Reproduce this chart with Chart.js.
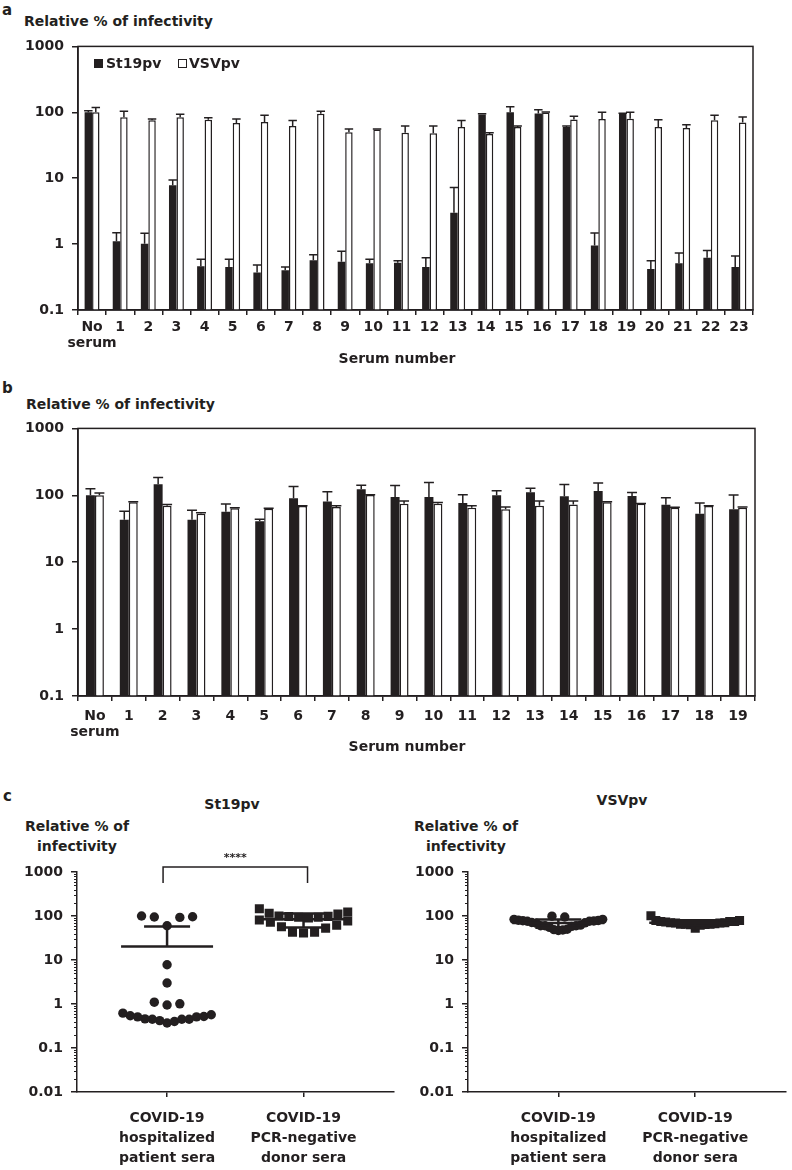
<!DOCTYPE html>
<html>
<head>
<meta charset="utf-8">
<title>Relative % of infectivity</title>
<script src="https://cdn.jsdelivr.net/npm/chart.js"></script>
<style>
  html, body { margin: 0; padding: 0; background: #fff; }
  #page { position: relative; width: 792px; height: 1170px; overflow: hidden;
          font-family: "DejaVu Sans", sans-serif; font-weight: bold; color: #231f20; }
  .t { position: absolute; font-size: 14px; line-height: 16px; white-space: nowrap; }
  .letter { font-size: 15px; }
  .mid { width: 200px; text-align: center; }
  .head { width: 160px; text-align: center; }
  .two { width: 160px; text-align: center; line-height: 20px; }
  .key { position: absolute; width: 9px; height: 9px; box-sizing: border-box; border: 1.5px solid #231f20; }
  canvas { position: absolute; }
</style>
</head>
<body>
<div id="page">
  <div class="t letter" style="left:2px; top:2px">a</div>
  <div class="t" style="left:24px; top:13px">Relative % of infectivity</div>
  <canvas id="chartA" width="792" height="330" style="left:0; top:30px"></canvas>
  <div class="key" style="left:94px; top:59px; background:#231f20"></div>
  <div class="t" id="keyA1" style="left:106px; top:55px"></div>
  <div class="key" style="left:178px; top:59px; background:#fff"></div>
  <div class="t" id="keyA2" style="left:189px; top:55px"></div>
  <div class="t mid" style="left:297px; top:350px">Serum number</div>

  <div class="t letter" style="left:2px; top:380px">b</div>
  <div class="t" style="left:26px; top:396px">Relative % of infectivity</div>
  <canvas id="chartB" width="792" height="335" style="left:0; top:412px"></canvas>
  <div class="t mid" style="left:307px; top:738px">Serum number</div>

  <div class="t letter" style="left:3px; top:788px">c</div>
  <div class="t head" id="headC1" style="left:152px; top:796px"></div>
  <div class="t head" id="headC2" style="left:542px; top:792px"></div>
  <div class="t two" style="left:-3px; top:816px">Relative % of<br>infectivity</div>
  <div class="t two" style="left:386px; top:816px">Relative % of<br>infectivity</div>
  <canvas id="chartC1" width="400" height="325" style="left:0; top:845px"></canvas>
  <canvas id="chartC2" width="392" height="325" style="left:400px; top:845px"></canvas>
</div>

<script>
// --- données ---
const seriesNames = ['St19pv', 'VSVpv'];

// panneau a : sérums de patients
const serumA = ['No serum', '1', '2', '3', '4', '5', '6', '7', '8', '9', '10', '11',
                '12', '13', '14', '15', '16', '17', '18', '19', '20', '21', '22', '23'];
const st19A   = [100, 1.1, 1.01, 7.8, 0.46, 0.45, 0.37, 0.40, 0.57, 0.54, 0.51, 0.52,
                 0.45, 3.0, 93, 100, 96, 60, 0.95, 95, 0.42, 0.51, 0.62, 0.45];
const st19ASd = [6, 0.39, 0.45, 1.6, 0.13, 0.14, 0.11, 0.05, 0.12, 0.24, 0.08, 0.04,
                 0.17, 4.2, 2, 21, 13, 2, 0.52, 2, 0.14, 0.22, 0.18, 0.21];
const vsvA    = [100, 84, 76, 84, 77, 69, 71, 62, 95, 50, 55, 49,
                 48, 60, 47, 60, 99, 78, 79, 80, 60, 58, 76, 70];
const vsvASd  = [18, 20, 3, 9.5, 6, 10, 19, 13, 9, 6, 1, 13,
                 14, 15, 2, 2, 2, 9, 21, 20, 17, 7, 14, 15];

// panneau b : sérums de donneurs
const serumB = ['No serum', '1', '2', '3', '4', '5', '6', '7', '8', '9', '10',
                '11', '12', '13', '14', '15', '16', '17', '18', '19'];
const st19B   = [100, 43, 146, 43, 57, 41, 90, 81, 123, 94, 94, 77, 100, 111, 97, 116, 98, 72, 53, 62];
const st19BSd = [25, 15, 38, 17, 17, 3, 45, 32, 18, 46, 61, 25, 17, 17, 48, 37, 12, 20, 24, 39];
const vsvB    = [100, 79, 70, 53, 64, 63, 69, 67, 101, 75, 75, 65, 62, 70, 73, 79, 75, 65, 69, 65];
const vsvBSd  = [8, 1, 3, 2, 1, 1, 0.5, 3, 1, 7, 3, 5, 5, 12, 9, 1, 0.5, 1, 1, 2];

// axes
const yTicksBars = [0.1, 1, 10, 100, 1000];
const yTicksScatter = [0.01, 0.1, 1, 10, 100, 1000];
const groupLabels = [['COVID-19', 'hospitalized', 'patient sera'],
                     ['COVID-19', 'PCR-negative', 'donor sera']];
const sigLabel = '****';

// --- style ---
const ink = '#231f20';
Chart.defaults.font.family = '"DejaVu Sans", sans-serif';
Chart.defaults.font.size = 14;
Chart.defaults.font.weight = 'bold';
Chart.defaults.color = ink;
Chart.defaults.animation = false;
Chart.defaults.events = [];

document.getElementById('keyA1').textContent = seriesNames[0];
document.getElementById('keyA2').textContent = seriesNames[1];
document.getElementById('headC1').textContent = seriesNames[0];
document.getElementById('headC2').textContent = seriesNames[1];

// cadre autour de la zone de tracé (panneaux a et b)
const frame = {
    id: 'frame',
    afterDraw(chart) {
        const {ctx, chartArea: a} = chart;
        ctx.save();
        ctx.strokeStyle = ink;
        ctx.lineWidth = 1.5;
        ctx.strokeRect(a.left, a.top, a.right - a.left, a.bottom - a.top);
        ctx.restore();
    }
};

// barres d'erreur (vers le haut seulement)
const errorBars = {
    id: 'errorBars',
    afterDatasetsDraw(chart) {
        const {ctx, scales: {y}} = chart;
        ctx.save();
        ctx.strokeStyle = ink;
        ctx.lineWidth = 1.5;
        chart.data.datasets.forEach((ds, i) => {
            chart.getDatasetMeta(i).data.forEach((bar, j) => {
                const top = y.getPixelForValue(ds.data[j] + ds.sd[j]);
                const half = bar.width / 2 + 0.5;
                ctx.beginPath();
                ctx.moveTo(bar.x, bar.y);
                ctx.lineTo(bar.x, top);
                ctx.moveTo(bar.x - half, top);
                ctx.lineTo(bar.x + half, top);
                ctx.stroke();
            });
        });
        ctx.restore();
    }
};

// petites graduations de l'axe log (panneau c)
const minorTicks = {
    id: 'minorTicks',
    afterDraw(chart) {
        const {ctx, scales: {y}} = chart;
        ctx.save();
        ctx.strokeStyle = ink;
        ctx.lineWidth = 1;
        ctx.beginPath();
        for (let e = Math.round(Math.log10(y.min)); e < Math.round(Math.log10(y.max)); e++) {
            for (let m = 2; m <= 9; m++) {
                const py = Math.round(y.getPixelForValue(m * Math.pow(10, e))) + 0.5;
                ctx.moveTo(y.right - 3, py);
                ctx.lineTo(y.right, py);
            }
        }
        ctx.stroke();
        ctx.restore();
    }
};

// moyenne + écart-type de chaque groupe
const meanSd = {
    id: 'meanSd',
    afterDatasetsDraw(chart) {
        const {ctx, scales: {x, y}} = chart;
        ctx.save();
        ctx.strokeStyle = ink;
        ctx.lineWidth = 2.5;
        chart.data.datasets.forEach(ds => {
            const v = ds.values, n = v.length;
            const mean = v.reduce((a, b) => a + b, 0) / n;
            const sd = Math.sqrt(v.reduce((a, b) => a + (b - mean) ** 2, 0) / (n - 1));
            const cx = x.getPixelForValue(ds.center);
            const pm = y.getPixelForValue(mean);
            const pu = y.getPixelForValue(mean + sd);
            ctx.beginPath();
            ctx.moveTo(cx - 46, pm); ctx.lineTo(cx + 46, pm);
            ctx.moveTo(cx, pm); ctx.lineTo(cx, pu);
            ctx.moveTo(cx - 23, pu); ctx.lineTo(cx + 23, pu);
            if (mean - sd > y.min) {
                const pl = y.getPixelForValue(mean - sd);
                ctx.moveTo(cx, pm); ctx.lineTo(cx, pl);
                ctx.moveTo(cx - 23, pl); ctx.lineTo(cx + 23, pl);
            }
            ctx.stroke();
        });
        ctx.restore();
    }
};

// crochet de significativité
const bracket = {
    id: 'bracket',
    afterDraw(chart) {
        const {ctx, chartArea, scales: {x, y}} = chart;
        const x0 = x.getPixelForValue(0) - 4, x1 = x.getPixelForValue(1) + 4;
        const top = chartArea.top - 5, end = y.getPixelForValue(560);
        ctx.save();
        ctx.strokeStyle = ink;
        ctx.lineWidth = 1.5;
        ctx.beginPath();
        ctx.moveTo(x0, end); ctx.lineTo(x0, top); ctx.lineTo(x1, top); ctx.lineTo(x1, end);
        ctx.stroke();
        ctx.fillStyle = ink;
        ctx.font = 'bold 11px "DejaVu Sans"';
        ctx.textAlign = 'center';
        ctx.fillText(sigLabel, (x0 + x1) / 2, top - 6);
        ctx.restore();
    }
};

function logAxis(ticks, width) {
    return {
        type: 'logarithmic',
        min: ticks[0],
        max: ticks[ticks.length - 1],
        afterBuildTicks: s => { s.ticks = ticks.map(v => ({value: v})); },
        afterFit: s => { s.width = width; },
        ticks: {callback: v => String(v), padding: 8},
        grid: {drawOnChartArea: false, tickLength: 6, color: ink, lineWidth: 1.5},
        border: {color: ink, width: 1.5}
    };
}

function barChart(id, labels, st19, st19Sd, vsv, vsvSd, o) {
    return new Chart(document.getElementById(id), {
        type: 'bar',
        data: {
            labels: labels.map(l => l.split(' ')),
            datasets: [
                {label: seriesNames[0], data: st19, sd: st19Sd, backgroundColor: ink,
                 borderColor: ink, borderWidth: 0, categoryPercentage: 0.53, barPercentage: 1},
                {label: seriesNames[1], data: vsv, sd: vsvSd, backgroundColor: '#fff',
                 borderColor: ink, borderWidth: 1.5, categoryPercentage: 0.53, barPercentage: 1}
            ]
        },
        options: {
            responsive: false,
            layout: {padding: o.padding},
            plugins: {legend: {display: false}, tooltip: {enabled: false}},
            scales: {
                x: {
                    afterFit: s => { s.height = o.xHeight; },
                    ticks: {padding: o.tickPad, autoSkip: false, maxRotation: 0,
                            font: {size: 14, weight: 'bold', lineHeight: 1.09}},
                    grid: {drawOnChartArea: false, tickLength: 5, color: ink, lineWidth: 1.5},
                    border: {color: ink, width: 1.5}
                },
                y: logAxis(yTicksBars, 78)
            }
        },
        plugins: [errorBars, frame]
    });
}

// disposition en essaim : valeurs proches sur une rangée, les plus basses au centre
const SWARM_STEP = 13, SWARM_HALF = 45, PX_PER_UNIT = 139;
function swarm(values, center) {
    const order = values.map((v, i) => i).sort((a, b) => values[a] - values[b]);
    const rows = [];
    let row = null;
    order.forEach(i => {
        const lv = Math.log10(values[i]);
        if (!row || lv - row.start > 0.3) {
            row = {start: lv, items: []};
            rows.push(row);
        }
        row.items.push(i);
    });
    const pts = [];
    rows.forEach(r => {
        const n = r.items.length;
        const step = n > 1 ? Math.min(SWARM_STEP, 2 * SWARM_HALF / (n - 1)) : 0;
        const slots = [];
        for (let k = 0; k < n; k++) slots.push((k - (n - 1) / 2) * step);
        slots.sort((a, b) => Math.abs(a) - Math.abs(b) || b - a);
        r.items.forEach((idx, k) => pts.push({x: center + slots[k] / PX_PER_UNIT, y: values[idx]}));
    });
    return pts;
}

function scatterChart(id, patient, donor, o) {
    return new Chart(document.getElementById(id), {
        type: 'scatter',
        data: {
            datasets: [
                {data: swarm(patient, 0), values: patient, center: 0, pointStyle: 'circle',
                 pointRadius: 4.7, backgroundColor: ink, borderColor: ink, borderWidth: 0},
                {data: swarm(donor, 1), values: donor, center: 1, pointStyle: 'rect',
                 pointRadius: 6.4, backgroundColor: ink, borderColor: ink, borderWidth: 0}
            ]
        },
        options: {
            responsive: false,
            layout: {padding: o.padding},
            plugins: {legend: {display: false}, tooltip: {enabled: false}},
            scales: {
                x: {
                    type: 'linear',
                    min: -0.66,
                    max: 1.66,
                    afterBuildTicks: s => { s.ticks = groupLabels.map((g, i) => ({value: i})); },
                    afterFit: s => { s.height = 76; },
                    ticks: {callback: (v, i) => groupLabels[i], padding: 11, maxRotation: 0,
                            font: {size: 14, weight: 'bold', lineHeight: 1.43}},
                    grid: {drawOnChartArea: false, tickLength: 5, color: ink, lineWidth: 1.5},
                    border: {color: ink, width: 1.5}
                },
                y: logAxis(yTicksScatter, o.yWidth)
            }
        },
        plugins: o.extra.concat([minorTicks, meanSd])
    });
}

document.addEventListener('DOMContentLoaded', () => {
    barChart('chartA', serumA, st19A, st19ASd, vsvA, vsvASd,
             {padding: {top: 15, right: 39, bottom: 2, left: 0}, xHeight: 48, tickPad: 5});
    barChart('chartB', serumB, st19B, st19BSd, vsvB, vsvBSd,
             {padding: {top: 15, right: 37, bottom: 2, left: 0}, xHeight: 49, tickPad: 8});

    // panneau c : mêmes sérums, patients (a) et donneurs (b), sans le témoin
    scatterChart('chartC1', st19A.slice(1), st19B.slice(1),
                 {padding: {top: 27, right: 2, bottom: 2, left: 0}, yWidth: 77, extra: [bracket]});
    scatterChart('chartC2', vsvA.slice(1), vsvB.slice(1),
                 {padding: {top: 27, right: 0, bottom: 2, left: 0}, yWidth: 68, extra: []});
});
</script>
</body>
</html>
